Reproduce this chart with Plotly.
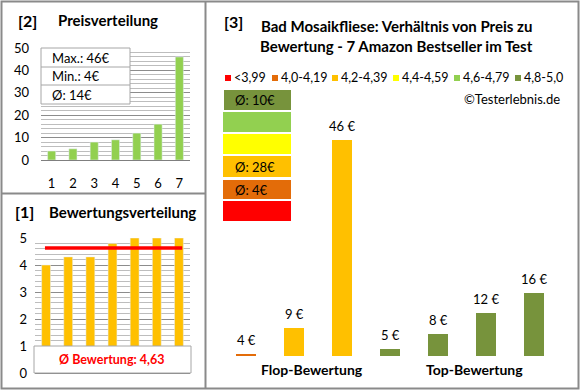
import plotly.graph_objects as go

W, H = 580, 390

# ---------------- data ----------------
price_idx = [1, 2, 3, 4, 5, 6, 7]
prices_sorted = [4, 5, 8, 9, 12, 16, 46]
ratings_sorted = [4.0, 4.3, 4.3, 4.8, 5.0, 5.0, 5.0]
avg_rating = 4.63

right_prices = [4, 9, 46, 5, 8, 12, 16]
right_ratings = [4.0, 4.3, 4.3, 4.8, 5.0, 5.0, 5.0]
group_labels = ["Flop-Bewertung", "Top-Bewertung"]

legend_labels = ["<3,99", "4,0-4,19", "4,2-4,39", "4,4-4,59", "4,6-4,79", "4,8-5,0"]
legend_colors = ["#FF0000", "#E36C09", "#FFC000", "#FFFF00", "#92D050", "#77933C"]
block_texts = ["Ø: 10€", "", "", "Ø: 28€", "Ø: 4€", ""]  # top to bottom: 4,8-5,0 ... <3,99

info_texts = ["Max.: 46€", "Min.: 4€", "Ø: 14€"]

FONT = "Lato"
GRID = "#bdbdbd"
BORDER = "#8a8a8a"


def px(x):
    return x / W


def py(y):
    return 1 - y / H


def color_for(r):
    bins = [3.99, 4.19, 4.39, 4.59, 4.79, 5.01]
    for b, c in zip(bins, legend_colors):
        if r <= b + 1e-9:
            return c
    return legend_colors[-1]


def ann(x, y, text, size=13, color="#000", xanchor="center", bold=False, **kw):
    if bold:
        text = f"<b>{text}</b>"
    d = dict(x=px(x), y=py(y), xref="paper", yref="paper", text=text,
             showarrow=False, xanchor=xanchor, yanchor="middle",
             font=dict(family=FONT, size=size, color=color))
    d.update(kw)
    return d


fig = go.Figure()

# ---------- chart [2] price distribution ----------
fig.add_trace(go.Bar(x=price_idx, y=prices_sorted, marker_color="#92D050",
                     width=0.38, xaxis="x", yaxis="y", showlegend=False))

# ---------- chart [1] rating distribution ----------
fig.add_trace(go.Bar(x=price_idx, y=ratings_sorted, marker_color="#FFC000",
                     width=0.4, xaxis="x2", yaxis="y2", showlegend=False))
fig.add_trace(go.Scatter(x=[price_idx[0] - 0.05, price_idx[-1] + 0.15],
                         y=[avg_rating, avg_rating], mode="lines",
                         line=dict(color="#FF0000", width=3.5),
                         xaxis="x2", yaxis="y2", showlegend=False))

# ---------- chart [3] price vs rating ----------
fig.add_trace(go.Bar(x=price_idx, y=right_prices,
                     marker_color=[color_for(r) for r in right_ratings],
                     marker_line_width=0,
                     width=0.4, xaxis="x3", yaxis="y3", showlegend=False))

annotations = []
for i, v in zip(price_idx, right_prices):
    annotations.append(dict(x=i, y=v, xref="x3", yref="y3", text=f"{v} €",
                            showarrow=False, yshift=14, xanchor="center",
                            yanchor="middle",
                            font=dict(family=FONT, size=13, color="#000")))

fig.update_layout(
    width=W, height=H,
    margin=dict(l=0, r=0, t=0, b=0, autoexpand=False),
    paper_bgcolor="white", plot_bgcolor="white",
    bargap=0,
    font=dict(family=FONT, color="#000"),
    xaxis=dict(domain=[px(41), px(190)], range=[0.5, 7.5], tickvals=price_idx,
               showgrid=False, zeroline=False, showline=False, ticks="",
               ticklabelstandoff=14, tickfont=dict(size=13, family=FONT),
               automargin=False),
    yaxis=dict(domain=[py(160), py(48)], range=[0, 50], dtick=10,
               showgrid=True, gridcolor="#8c8c8c", gridwidth=1,
               minor=dict(dtick=2, showgrid=True, gridcolor=GRID, gridwidth=1),
               zeroline=True, zerolinecolor="#7f7f7f", zerolinewidth=1,
               ticks="", ticklabelstandoff=11, automargin=False,
               tickfont=dict(size=13, family=FONT)),
    xaxis2=dict(domain=[px(35), px(190)], range=[0.5, 7.5],
                showticklabels=False, showgrid=False, zeroline=False,
                showline=False, ticks="", automargin=False),
    yaxis2=dict(domain=[py(373), py(238)], range=[0, 5], dtick=1,
                showgrid=True, gridcolor="#8c8c8c", gridwidth=1,
                minor=dict(dtick=0.2, showgrid=True, gridcolor=GRID, gridwidth=1),
                zeroline=True, zerolinecolor="#7f7f7f", zerolinewidth=1,
                ticks="", ticklabelstandoff=13, automargin=False,
                tickfont=dict(size=13, family=FONT)),
    xaxis3=dict(domain=[px(222), px(558)], range=[0.5, 7.5],
                visible=False, automargin=False),
    yaxis3=dict(domain=[py(356), py(140)], range=[3.6, 46], visible=False,
                automargin=False),
)

shapes = []
# info box on chart [2]
shapes.append(dict(type="rect", xref="paper", yref="paper",
                   x0=px(41), x1=px(130), y0=py(104), y1=py(48),
                   fillcolor="white", line=dict(color="#a6a6a6", width=1),
                   layer="above"))
for yy in (67, 85):
    shapes.append(dict(type="line", xref="paper", yref="paper",
                       x0=px(41), x1=px(130), y0=py(yy), y1=py(yy),
                       line=dict(color="#a6a6a6", width=1), layer="above"))
for t, yy in zip(info_texts, (58, 76, 95)):
    annotations.append(ann(50, yy, t, xanchor="left"))

# average box on chart [1]
shapes.append(dict(type="rect", xref="paper", yref="paper",
                   x0=px(34), x1=px(191), y0=py(373), y1=py(346),
                   fillcolor="white", line=dict(color="#a6a6a6", width=1),
                   layer="above"))
annotations.append(ann(111, 359,
                       f"Ø Bewertung: {avg_rating:.2f}".replace(".", ","),
                       size=12.5, color="#FF0000", bold=True))

# color blocks on chart [3]
block_y = [(90, 110), (112, 132), (134, 154), (156, 177), (180, 199), (201, 221)]
block_cols = list(reversed(legend_colors))
for (y0, y1), c, t in zip(block_y, block_cols, block_texts):
    x0 = 224 if c == "#77933C" else 223
    shapes.append(dict(type="rect", xref="paper", yref="paper",
                       x0=px(x0), x1=px(291), y0=py(y1), y1=py(y0),
                       fillcolor=c, line=dict(width=0)))
    if t:
        annotations.append(ann(233, (y0 + y1) / 2, t, xanchor="left"))

# legend row
leg_sq_x = [225, 272, 332, 393, 454, 515]
for xx, c, t in zip(leg_sq_x, legend_colors, legend_labels):
    shapes.append(dict(type="rect", xref="paper", yref="paper",
                       x0=px(xx), x1=px(xx + 6), y0=py(81), y1=py(75),
                       fillcolor=c, line=dict(width=0)))
    annotations.append(ann(xx + 7, 78, t.replace("<", "&lt;"), size=12.5,
                           xanchor="left"))

annotations.append(ann(562, 99, "©Testerlebnis.de", xanchor="right"))

# group labels
for t, xx in zip(group_labels, (312, 474)):
    annotations.append(ann(xx, 369, t, size=14, bold=True))

# panel titles
annotations += [
    ann(27, 20, "[2]", size=16, bold=True),
    ann(108, 20, "Preisverteilung", size=15, bold=True),
    ann(24, 212, "[1]", size=16, bold=True),
    ann(122, 212, "Bewertungsverteilung", size=15, bold=True),
    ann(233, 21, "[3]", size=16, bold=True),
    ann(396, 26, "Bad Mosaikfliese: Verhältnis von Preis zu", size=15, bold=True),
    ann(396, 46, "Bewertung - 7 Amazon Bestseller im Test", size=15, bold=True),
]

# panel borders
shapes += [
    dict(type="rect", xref="paper", yref="paper", x0=px(1.5), x1=px(578.5),
         y0=py(388.5), y1=py(1.5), line=dict(color=BORDER, width=2)),
    dict(type="line", xref="paper", yref="paper", x0=px(205.5), x1=px(205.5),
         y0=py(1), y1=py(389), line=dict(color=BORDER, width=2)),
    dict(type="line", xref="paper", yref="paper", x0=px(1), x1=px(205.5),
         y0=py(193.5), y1=py(193.5), line=dict(color=BORDER, width=2)),
]

fig.update_layout(shapes=shapes, annotations=annotations)
fig.write_html("out.html",
               config={"displayModeBar": False, "staticPlot": True},
               post_script="document.body.style.margin='0';"
                           "document.body.style.padding='0';")
